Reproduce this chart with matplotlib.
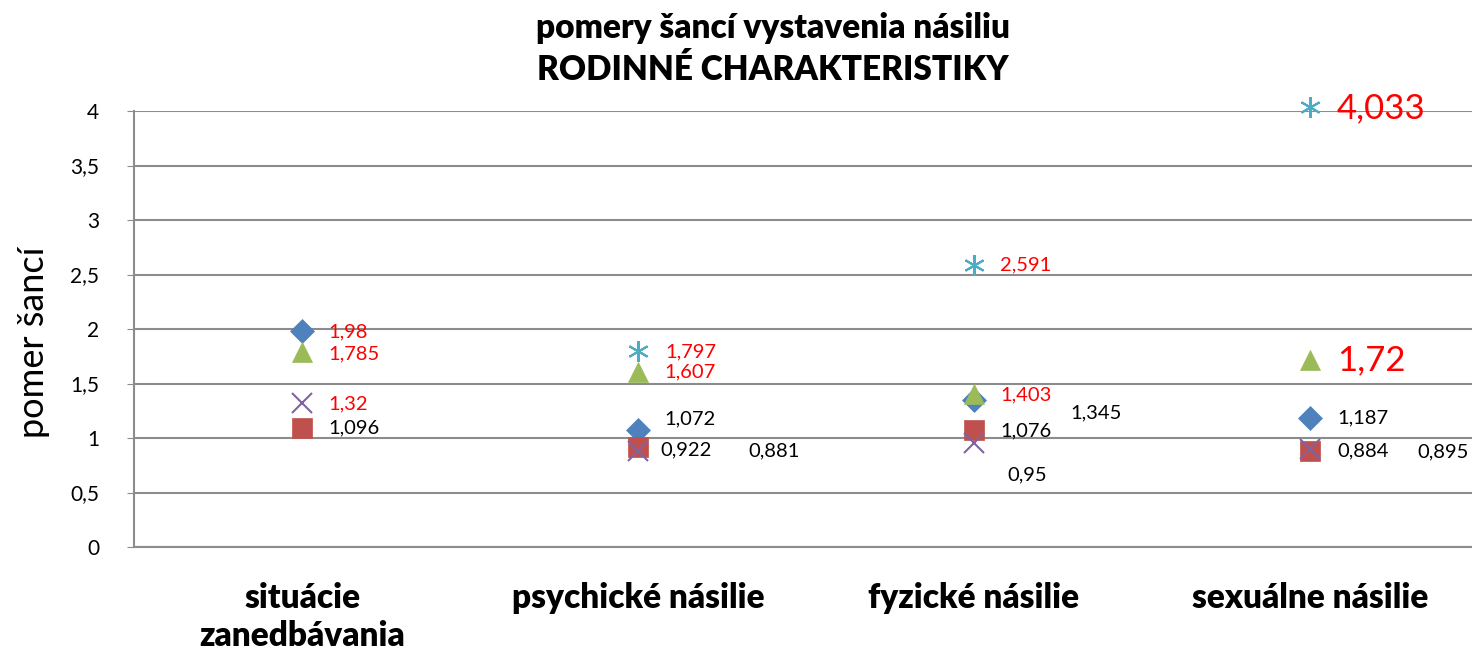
import matplotlib
matplotlib.use('Agg')
import matplotlib.pyplot as plt
import numpy as np

plt.rcParams['font.family'] = ['Lato', 'DejaVu Sans']

categories = ['situácie\nzanedbávania', 'psychické násilie', 'fyzické násilie', 'sexuálne násilie']

# odds ratios per series (None = no value)
s_diamond = [1.98, 1.072, 1.345, 1.187]
s_square = [1.096, 0.922, 1.076, 0.884]
s_triangle = [1.785, 1.607, 1.403, 1.72]
s_cross = [1.32, 0.881, 0.95, 0.895]
s_star = [None, 1.797, 2.591, 4.033]

# label colour per point: True = significant (red)
sig_diamond = [True, False, False, False]
sig_square = [False, False, False, False]
sig_triangle = [True, True, True, True]
sig_cross = [True, False, False, False]
sig_star = [False, True, True, True]

yticks = [0, 0.5, 1, 1.5, 2, 2.5, 3, 3.5, 4]
ytick_labels = ['0', '0,5', '1', '1,5', '2', '2,5', '3', '3,5', '4']

# label offsets in pixels (dx, dy) per series and category
off_diamond = [(26, -1), (26, 11), (96, -12), (27, 0)]
off_square = [(26, 0), (22, -3), (26, -1), (27, 0)]
off_triangle = [(26, -1), (26, 0), (26, -1), (27, -1)]
off_cross = [(26, -1), (110, 0), (33, -31), (107, -2)]
off_star = [(26, 0), (27, -1), (26, 0), (27, -1)]

series = [
    (s_diamond, sig_diamond, off_diamond, 'D', '#4F81BD', 12),
    (s_square, sig_square, off_square, 's', '#C0504D', 14),
    (s_triangle, sig_triangle, off_triangle, '^', '#9BBB59', 15),
    (s_cross, sig_cross, off_cross, 'x', '#8064A2', 14),
    (s_star, sig_star, off_star, (6, 2, 0), '#4BACC6', 15),
]

fig = plt.figure(figsize=(14.72, 6.54), dpi=100)
ax = fig.add_axes([134 / 1472, 1 - 547 / 654, 1 - 134 / 1472, (547 - 111) / 654])

x = np.arange(len(categories))
for vals, sigs, offs, mk, col, ms in series:
    for i, v in enumerate(vals):
        if v is None:
            continue
        ax.plot(x[i], v, linestyle='none', marker=mk, color=col, markersize=ms,
                markeredgewidth=1.5 if mk in ('x', (6, 2, 0)) else 0.5,
                markeredgecolor=col, clip_on=False, zorder=3)
        big = (i == 3 and sigs[i])
        lbl = f'{v:g}'.replace('.', ',')
        ax.annotate(lbl, (x[i], v), xytext=offs[i], textcoords='offset pixels',
                    ha='left', va='center', fontsize=25 if big else 14.5,
                    color='#FF0000' if sigs[i] else 'black', zorder=4,
                    annotation_clip=False)

ax.set_xlim(-0.5, 3.482)
ax.set_ylim(0, 4)
ax.set_yticks(yticks)
ax.set_yticklabels(ytick_labels, fontsize=15)
ax.yaxis.grid(True, color='#8C8C8C', linewidth=1.5)
ax.set_axisbelow(True)
ax.tick_params(axis='y', length=5, color='#8C8C8C', pad=20)
ax.set_xticks(x)
ax.set_xticklabels(categories, fontsize=24, fontweight='heavy', linespacing=1.25, va='top')
ax.tick_params(axis='x', length=0, pad=25)
for sp in ['top', 'right']:
    ax.spines[sp].set_visible(False)
for sp in ['left', 'bottom']:
    ax.spines[sp].set_color('#8C8C8C')
    ax.spines[sp].set_linewidth(1.5)

ax.set_ylabel('pomer šancí', fontsize=26)
ax.yaxis.set_label_coords((50 - 134) / 1338, (547 - 342) / 436)
fig.text(773 / 1472, 1 - 49 / 654, 'pomery šancí vystavenia násiliu\nRODINNÉ CHARAKTERISTIKY',
         ha='center', va='center', fontsize=24, fontweight='heavy', linespacing=1.38)

fig.savefig('out.png', dpi=100)
